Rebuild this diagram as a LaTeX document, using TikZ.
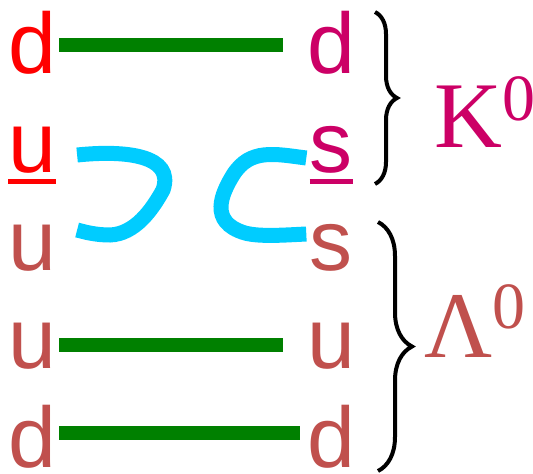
\documentclass[tikz,border=0pt]{standalone}
\usepackage{fontspec}
\setmainfont{Liberation Sans}
\newfontfamily\hadronfont{Liberation Serif}
\usetikzlibrary{decorations.pathreplacing}

\definecolor{quarkred}{HTML}{FF0000}
\definecolor{kaoncol}{HTML}{CC0066}
\definecolor{lambdacol}{HTML}{C0504D}
\definecolor{bondcol}{HTML}{008000}
\definecolor{swapcol}{HTML}{00CCFF}

% antiquark: letter with a bar underneath
\newcommand{\antiq}[1]{\setbox0=\hbox{#1}\rlap{\rule[-11.5pt]{\wd0}{5pt}}\box0}

\begin{document}
\begin{tikzpicture}[x=1pt, y=-1pt,
    quark/.style={anchor=base, inner sep=0pt, text height=62pt, text depth=0pt,
        font=\fontsize{86}{86}\selectfont},
    bond/.style={draw=bondcol, line width=14pt},
    swap/.style={draw=swapcol, line width=15pt},
    hadron/.style={draw, line width=4pt, decorate, decoration={brace, amplitude=#1}},
    label/.style={anchor=base west, inner sep=0pt, font=\hadronfont\fontsize{94}{94}\selectfont}]
    \useasboundingbox (0,0) rectangle (533,474);

    % left column
    \node[quark, quarkred] (l1) at (32,73) {d};
    \node[quark, quarkred] (l2) at (32,172) {\antiq{u}};
    \node[quark, lambdacol] (l3) at (32,270) {u};
    \node[quark, lambdacol] (l4) at (32,368) {u};
    \node[quark, lambdacol] (l5) at (32,467) {d};

    % right column
    \node[quark, kaoncol] (r1) at (331,73) {d};
    \node[quark, kaoncol] (r2) at (331,172) {\antiq{s}};
    \node[quark, lambdacol] (r3) at (331,270) {s};
    \node[quark, lambdacol] (r4) at (331,368) {u};
    \node[quark, lambdacol] (r5) at (331,467) {d};

    \draw[bond, shorten <=3pt, shorten >=24pt] ([yshift=-3pt]l1.east) -- ([yshift=-3pt]r1.west);
    \draw[bond, shorten <=3pt, shorten >=24pt] ([yshift=-7.5pt]l4.east) -- ([yshift=-7.5pt]r4.west);
    \draw[bond, shorten <=3pt, shorten >=7pt] ([yshift=3pt]l5.east) -- ([yshift=3pt]r5.west);

    \draw[swap] ([shift={(21,14)}]l2.east) .. controls (125,150) and (175,155) .. (163,190)
        .. controls (152,210) and (135,234) .. (110,235)
        .. controls (95,235) and (85,232) .. ([shift={(21,-9)}]l3.east);
    \draw[swap] ([shift={(-3,17)}]r2.west) .. controls (275,154) and (250,148) .. (233,175)
        .. controls (222,193) and (208,222) .. (245,233)
        .. controls (260,237) and (285,235) .. ([shift={(-3,-5)}]r3.west);

    \draw[hadron=22pt] (375,12) -- (375,184);
    \draw[hadron=34pt] (378,222) -- (378,471);

    \node[label, kaoncol] (K) at (434,147) {K\raisebox{27pt}{\fontsize{66}{66}\selectfont 0}};
    \node[label, lambdacol] (L) at (424,357) {Λ\raisebox{29pt}{\fontsize{66}{66}\selectfont 0}};
\end{tikzpicture}
\end{document}
